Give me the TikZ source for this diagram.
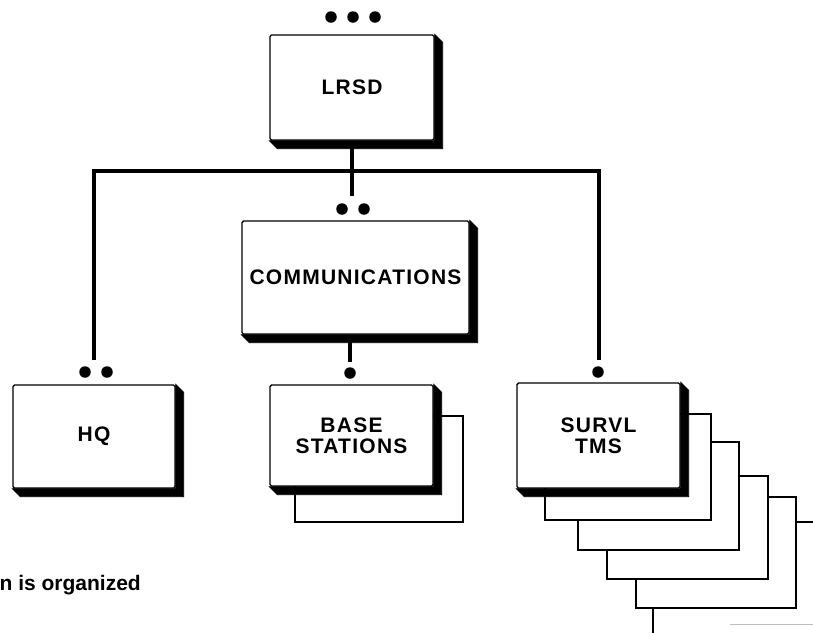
\documentclass[tikz,border=0pt]{standalone}
\usepackage{fontspec}
\newfontfamily\lblfont{Liberation Sans}[LetterSpace=6]
\newfontfamily\capfont{Liberation Sans}
\usetikzlibrary{calc}
\tikzset{
  box/.style={draw=black, line width=1.4pt, fill=white, rounded corners=1.5pt,
    inner sep=0pt, align=center, text=black,
    font=\lblfont\bfseries\fontsize{21}{21}\selectfont},
  backbox/.style={draw=black, line width=1.1pt, fill=white},
  shade/.style={fill=black, draw=black, line width=0.8pt, line join=miter},
  conn/.style={draw=black, line width=4.6pt, line join=miter},
  dot/.style={circle, fill=black, inner sep=0pt, minimum size=11.5pt}
}
\newcommand\boxshade[1]{%
  \path[shade] (#1.north east) -- ($(#1.north east)+(8,8)$)
    -- ($(#1.south east)+(8,8)$) -- ($(#1.south west)+(8,8)$)
    -- (#1.south west) -- (#1.south east) -- cycle;}
\begin{document}
\begin{tikzpicture}[x=1pt,y=-1pt]
\useasboundingbox (0,0) rectangle (813,633);
\fill[white] (0,0) rectangle (813,633);

% connectors
\coordinate (hqend) at (94,360);
\coordinate (busL) at (94,171);
\coordinate (busR) at (599,171);
\coordinate (svend) at (599,360);
\coordinate (cmend) at (352,196);
\coordinate (bsend) at (350,362);
\draw[conn] (hqend) -- (busL) -- (busR) -- (svend);

% LRSD
\node[box, minimum width=164pt, minimum height=105pt] (lrsd) at (352,87.5) {LRSD};
\boxshade{lrsd}
\node[dot] (l1) at (331,17) {};
\node[dot] (l2) at (353,17) {};
\node[dot] (l3) at (375,17) {};
\draw[conn] (lrsd.south -| cmend) -- (cmend);

% COMMUNICATIONS
\node[box, minimum width=227pt, minimum height=113pt] (comm) at (355.5,277.5) {COMMUNICATIONS};
\boxshade{comm}
\node[dot] (c1) at (342,209) {};
\node[dot] (c2) at (364,209) {};
\draw[conn] (comm.south -| bsend) -- (bsend);

% HQ
\node[dot] (h1) at (85,372) {};
\node[dot] (h2) at (107,372) {};
\node[box, minimum width=162pt, minimum height=103pt] (hq) at (94,436.5) {HQ};
\boxshade{hq}

% BASE STATIONS
\draw[backbox] (295,416) rectangle (463,522);
\node[dot] (b1) at (350,373) {};
\node[box, minimum width=163pt, minimum height=101pt] (base) at (351.5,435.5) {BASE\\STATIONS};
\boxshade{base}

% SURVL TMS stack
\draw[backbox, fill=none] (813,522) -- (653,522) -- (653,633);
\draw[backbox] (636,497) rectangle (796,608);
\draw[backbox] (607,476) rectangle (768,579);
\draw[backbox] (578,442) rectangle (739,550);
\draw[backbox] (545,414) rectangle (711,520);
\node[dot] (s1) at (598,372) {};
\node[box, minimum width=163pt, minimum height=105pt] (survl) at (598.5,435.5) {SURVL\\TMS};
\boxshade{survl}
\draw[black!25, line width=0.8pt] (730,624) -- (813,624);

% caption fragment
\node[anchor=east, inner sep=0pt, font=\capfont\bfseries\fontsize{21}{24}\selectfont] (cap) at (141,585) {n is organized};
\end{tikzpicture}
\end{document}
